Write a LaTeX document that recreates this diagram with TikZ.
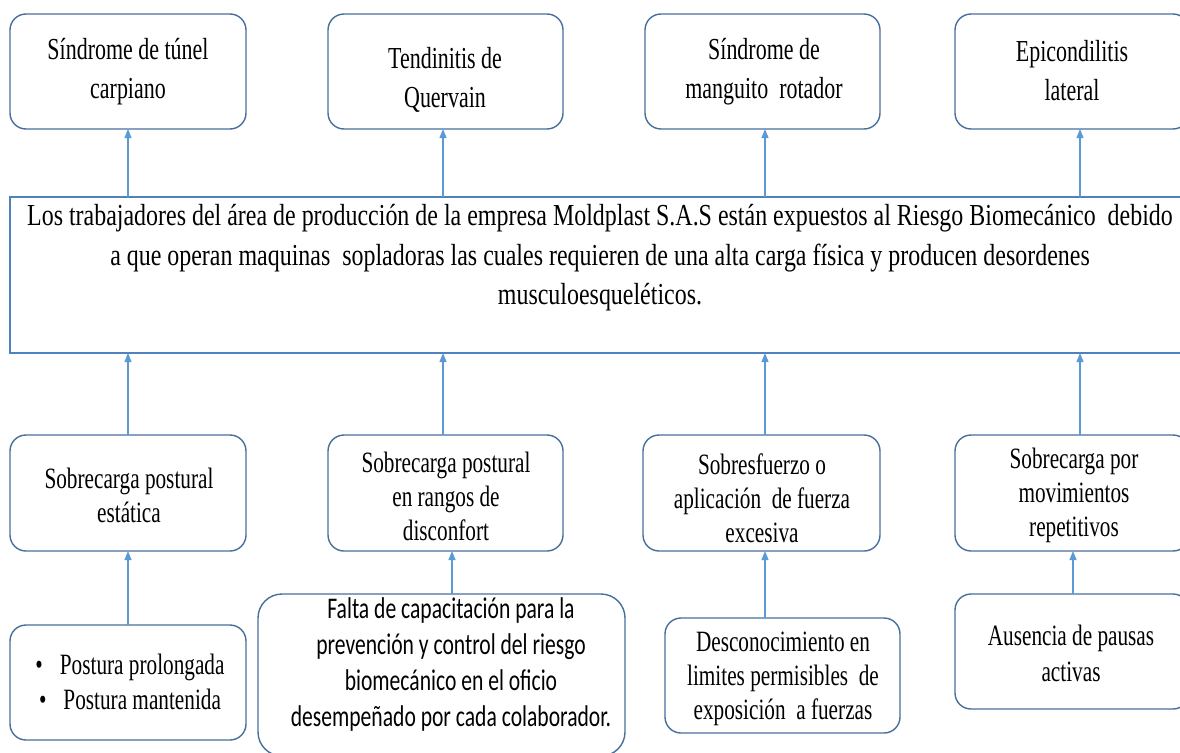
\documentclass[tikz,border=0pt]{standalone}
\usepackage{fontspec}
\setmainfont[FakeStretch=0.72]{Liberation Serif}
\newfontfamily\mainwide[FakeStretch=0.785]{Liberation Serif}
\newfontfamily\calib[FakeStretch=0.72]{Carlito}
\usetikzlibrary{arrows.meta}
\definecolor{boxc}{RGB}{70,110,155}
\definecolor{mainc}{RGB}{79,129,189}
\definecolor{arrc}{RGB}{91,155,213}
\tikzset{
  rbox/.style n args={2}{draw=boxc, line width=1.4pt, rounded corners=16pt,
    minimum width=#1, minimum height=#2, inner sep=0pt, outer sep=0pt},
  mainbox/.style n args={2}{draw=mainc, line width=1.6pt,
    minimum width=#1, minimum height=#2, inner sep=0pt, outer sep=0pt},
  bigtxt/.style={align=center, inner sep=0pt, font=\fontsize{30.5}{39}\selectfont},
  maintxt/.style={align=center, inner sep=0pt, font=\mainwide\fontsize{30.5}{39.5}\selectfont},
  midtxt/.style={align=center, inner sep=0pt, font=\fontsize{29.5}{34}\selectfont},
  lowtxt/.style={align=center, inner sep=0pt, font=\fontsize{29.5}{35.5}\selectfont},
  caltxt/.style={align=center, inner sep=0pt, font=\calib\fontsize{30}{36}\selectfont},
  arr/.style={draw=arrc, line width=1.2pt, -{Triangle[length=9pt,width=7pt]}},
}
\begin{document}
\begin{tikzpicture}[x=1pt,y=-1pt]
\useasboundingbox (0,0) rectangle (1180,752);
\clip (0,0) rectangle (1180,752);
% top row
\node[rbox={236pt}{115pt}] (t1) at (128,71.5) {};
\node[rbox={235pt}{115pt}] (t2) at (445.5,71.5) {};
\node[rbox={235pt}{115pt}] (t3) at (762.5,71.5) {};
\node[rbox={234pt}{115pt}] (t4) at (1072,71.5) {};
\node[bigtxt] (t1t) at (128,71.5) {Síndrome de túnel\\carpiano};
\node[bigtxt] (t2t) at (445,80) {Tendinitis de\\Quervain};
\node[bigtxt] (t3t) at (764,71.5) {Síndrome de\\manguito~ rotador};
\node[bigtxt] (t4t) at (1072,70.5) {Epicondilitis\\lateral};
% main box
\node[mainbox={1190pt}{156pt}, anchor=north west] (main) at (10,197) {};
\node[maintxt] (maint) at (600,258) {Los trabajadores del área de producción de la empresa Moldplast S.A.S están expuestos al Riesgo Biomecánico~ debido\\a que operan maquinas~ sopladoras las cuales requieren de una alta carga física y producen desordenes\\musculoesqueléticos.};
% middle row
\node[rbox={236pt}{116pt}] (m1) at (128,493) {};
\node[rbox={235pt}{116pt}] (m2) at (445.5,493) {};
\node[rbox={237pt}{116pt}] (m3) at (761.5,493) {};
\node[rbox={234pt}{116pt}] (m4) at (1072,493) {};
\node[midtxt] (m1t) at (129,495) {Sobrecarga postural\\estática};
\node[midtxt] (m2t) at (446,496) {Sobrecarga postural\\en rangos de\\disconfort};
\node[midtxt] (m3t) at (762,498.5) {Sobresfuerzo o\\aplicación~ de fuerza\\excesiva};
\node[midtxt] (m4t) at (1074,495) {Sobrecarga por\\movimientos\\repetitivos};
% bottom row
\node[rbox={236pt}{115pt}] (l1) at (128,682.5) {};
\node[rbox={367pt}{162pt}, rounded corners=24pt] (l2) at (441.5,675) {};
\node[rbox={235pt}{115pt}] (l3) at (782.5,675.5) {};
\node[rbox={234pt}{115pt}] (l4) at (1072,651.5) {};
\node[lowtxt] (l1t) at (130,682) {\textbullet\hspace{17pt}Postura prolongada\\\textbullet\hspace{17pt}Postura mantenida};
\node[caltxt] (l2t) at (451,664) {Falta de capacitación para la\\prevención y control del riesgo\\biomecánico en el oficio\\desempeñado por cada colaborador.};
\node[midtxt] (l3t) at (783,678.5) {Desconocimiento en\\limites permisibles~ de\\exposición~ a fuerzas};
\node[lowtxt] (l4t) at (1071,653.5) {Ausencia de pausas\\activas};
% connectors main -> top
\draw[arr] (t1.south |- main.north) -- (t1.south);
\draw[arr] ([xshift=-2.5pt]t2.south |- main.north) -- ([xshift=-2.5pt]t2.south);
\draw[arr] ([xshift=2.5pt]t3.south |- main.north) -- ([xshift=2.5pt]t3.south);
\draw[arr] ([xshift=8pt]t4.south |- main.north) -- ([xshift=8pt]t4.south);
% middle -> main
\draw[arr] (m1.north) -- (m1.north |- main.south);
\draw[arr] ([xshift=-2.5pt]m2.north) -- ([xshift=-2.5pt]m2.north |- main.south);
\draw[arr] ([xshift=3.5pt]m3.north) -- ([xshift=3.5pt]m3.north |- main.south);
\draw[arr] ([xshift=8pt]m4.north) -- ([xshift=8pt]m4.north |- main.south);
% bottom -> middle
\draw[arr] (l1.north) -- (m1.south);
\draw[arr] ([xshift=6.5pt]m2.south |- l2.north) -- ([xshift=6.5pt]m2.south);
\draw[arr] ([xshift=3.5pt]m3.south |- l3.north) -- ([xshift=3.5pt]m3.south);
\draw[arr] ([xshift=1pt]m4.south |- l4.north) -- ([xshift=1pt]m4.south);
\end{tikzpicture}
\end{document}
